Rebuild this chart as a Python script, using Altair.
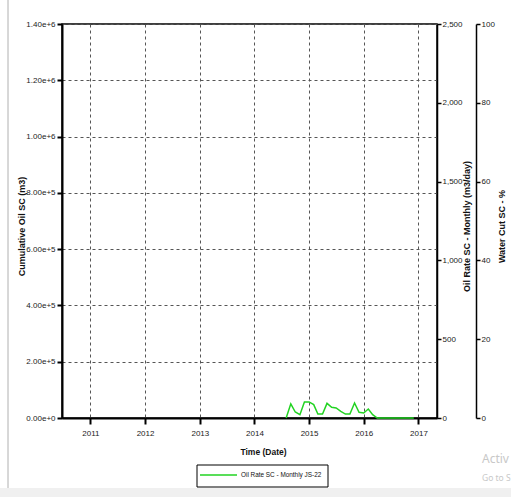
import altair as alt
import pandas as pd

# ---- data ----
months = ["2014-08-01", "2014-09-01", "2014-10-01", "2014-11-01", "2014-12-01",
          "2015-01-01", "2015-02-01", "2015-03-01", "2015-04-01", "2015-05-01",
          "2015-06-01", "2015-07-01", "2015-08-01", "2015-09-01", "2015-10-01",
          "2015-11-01", "2015-12-01", "2016-01-01", "2016-02-01", "2016-03-01",
          "2016-04-01", "2016-05-01", "2016-06-01", "2016-07-01", "2016-08-01",
          "2016-09-01", "2016-10-01", "2016-11-01", "2016-12-01"]
oil_rate = [0, 90, 38, 21, 102, 102, 85, 25, 25, 93, 68, 64, 42, 25, 25,
            95, 36, 32, 57, 21, 0, 0, 0, 0, 0, 0, 0, 0, 0]
year_ticks = [2011, 2012, 2013, 2014, 2015, 2016, 2017]
cum_ticks = [0, 200000, 400000, 600000, 800000, 1000000, 1200000, 1400000]
rate_ticks = [0, 500, 1000, 1500, 2000, 2500]
wc_ticks = [0, 20, 40, 60, 80, 100]
series_name = "Oil Rate SC - Monthly JS-22"

LBL = "Liberation Sans, Arial, sans-serif"
REG = "Liberation Sans, Arial, sans-serif"
GREEN = "#22d322"

df = pd.DataFrame({"date": months, "rate": oil_rate})
one = pd.DataFrame({"date": ["2014-01-01"], "c": [0], "w": [0]})

common_axis = dict(labelFont=LBL, labelFontSize=8, labelColor="#1a1a1a",
                   titleFont=REG, titleFontSize=9, titleFontWeight="bold",
                   titleColor="#111111", domainColor="black", tickColor="black")

x = alt.X("date:T",
          scale=alt.Scale(type="utc",
                          domain=[alt.DateTime(year=2010, month=6, date=25, utc=True),
                                  alt.DateTime(year=2017, month=5, date=5, utc=True)]),
          axis=alt.Axis(values=[alt.DateTime(year=y, month=1, date=1, utc=True) for y in year_ticks],
                        labelExpr="utcFormat(datum.value, '%Y')",
                        title="Time (Date)", grid=True, gridDash=[3, 3],
                        gridColor="#555555", gridWidth=1, tickSize=6, tickWidth=2,
                        domainWidth=2, labelPadding=5,
                        titleX=201, titleY=33, titleBaseline="middle", titleAlign="center",
                        titleFontSize=8.5,
                        **{k: v for k, v in common_axis.items() if k != "titleFontSize"}))

cum_layer = alt.Chart(one).mark_point(opacity=0).encode(
    x=x,
    y=alt.Y("c:Q", scale=alt.Scale(domain=[0, 1400000]),
            axis=alt.Axis(orient="left", values=cum_ticks,
                          labelExpr="format(datum.value, '.2e')",
                          title="Cumulative Oil SC (m3)", grid=True, gridDash=[3, 3],
                          gridColor="#555555", gridWidth=1, tickSize=5, tickWidth=2,
                          domainWidth=2, labelPadding=2,
                          titleAngle=-90, titleX=-41, titleY=202,
                          titleAlign="center", titleBaseline="middle", **common_axis)))

rate_layer = alt.Chart(df).mark_line(color=GREEN, strokeWidth=1.5).encode(
    x=x,
    y=alt.Y("rate:Q", scale=alt.Scale(domain=[0, 2500]),
            axis=alt.Axis(orient="right", values=rate_ticks,
                          labelExpr="format(datum.value, ',')",
                          title="Oil Rate SC - Monthly (m3/day)", grid=False,
                          tickSize=4, tickWidth=1.5, domainWidth=1.5, labelPadding=1,
                          titleAngle=-90, titleX=29, titleY=202,
                          titleAlign="center", titleBaseline="middle", **common_axis)))

wc_layer = alt.Chart(one).mark_point(opacity=0).encode(
    x=x,
    y=alt.Y("w:Q", scale=alt.Scale(domain=[0, 100]),
            axis=alt.Axis(orient="right", offset=39, values=wc_ticks,
                          labelExpr="format(datum.value, 'd')",
                          title="Water Cut SC - %", grid=False,
                          tickSize=4, tickWidth=1.5, domainWidth=1.5, labelPadding=1,
                          titleAngle=-90, titleX=25, titleY=202,
                          titleAlign="center", titleBaseline="middle", **common_axis)))

# ---- decorations (legend box, page frame, watermark) ----
legend_box = alt.Chart(one).mark_rect(fill="white", stroke="black", strokeWidth=1).encode(
    x=alt.value(135), x2=alt.value(266), y=alt.value(441), y2=alt.value(463))
legend_line = alt.Chart(one).mark_rule(color=GREEN, strokeWidth=1.5).encode(
    x=alt.value(138), x2=alt.value(175), y=alt.value(451))
legend_text = alt.Chart(one).mark_text(align="left", baseline="middle", font=LBL,
                                       fontSize=6.4, color="#111111").encode(
    x=alt.value(179), y=alt.value(451), text=alt.value(series_name))

frame_line = alt.Chart(one).mark_rule(color="#b0b0b0", strokeWidth=1).encode(
    x=alt.value(-54), y=alt.value(-24), y2=alt.value(464))
bottom_band = alt.Chart(one).mark_rect(color="#f0f0f0").encode(
    x=alt.value(-62), x2=alt.value(449), y=alt.value(464), y2=alt.value(473))
wm1 = alt.Chart(one).mark_text(align="left", baseline="alphabetic", font="Noto Sans",
                               fontSize=12, color="#c8c8c8").encode(
    x=alt.value(420), y=alt.value(439), text=alt.value("Activ"))
wm2 = alt.Chart(one).mark_text(align="left", baseline="alphabetic", font="Noto Sans",
                               fontSize=8.5, color="#c8c8c8").encode(
    x=alt.value(420), y=alt.value(457), text=alt.value("Go to S"))

chart = alt.layer(
    bottom_band, frame_line, cum_layer, rate_layer, wc_layer,
    legend_box, legend_line, legend_text, wm1, wm2
).resolve_scale(y="independent").properties(
    width=375, height=394,
    autosize=alt.AutoSizeParams(type="none"),
    padding={"left": 62, "top": 24, "right": 74, "bottom": 79},
    background="white",
).configure_view(stroke="black", strokeWidth=1.5)

chart.save("out.html", embed_options={"renderer": "svg", "actions": False})
